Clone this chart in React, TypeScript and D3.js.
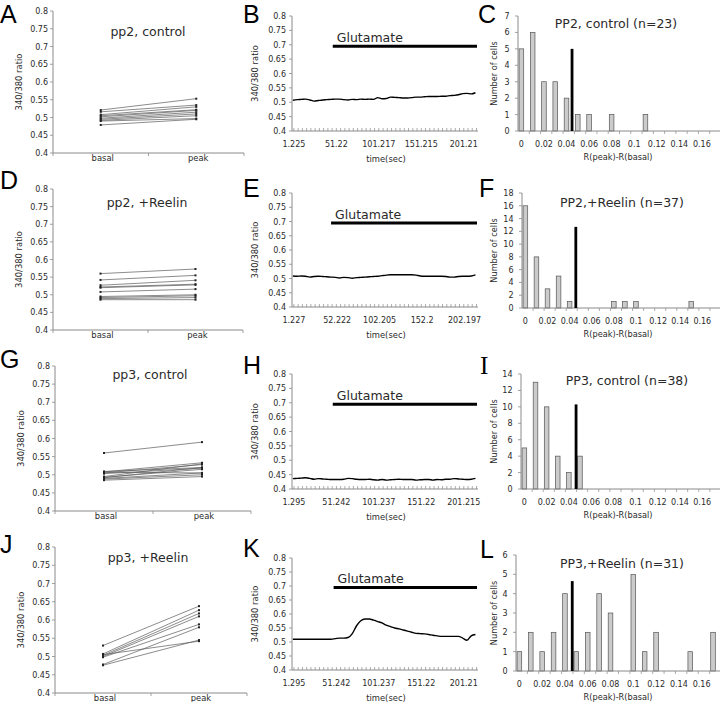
import React from "react";
import * as d3 from "d3";

const FONT = "'DejaVu Sans', Verdana, sans-serif";
const LETTER_FONT = "'Liberation Sans', Arial, sans-serif";
const AXIS = "#8a8a8a";
const TXT = "#2a2a2a";

// ---------- scatter (basal vs peak) ----------
const scatterCategories = ["basal", "peak"];
const ratioTicks = [0.4, 0.45, 0.5, 0.55, 0.6, 0.65, 0.7, 0.75, 0.8];
const ratioTickLabels = ["0.4", "0.45", "0.5", "0.55", "0.6", "0.65", "0.7", "0.75", "0.8"];

const pp2ControlBasal = [0.521, 0.516, 0.508, 0.505, 0.502, 0.498, 0.495, 0.492, 0.49, 0.479];
const pp2ControlPeak = [0.553, 0.535, 0.53, 0.522, 0.52, 0.515, 0.51, 0.505, 0.497, 0.495];
const pp2ReelinBasal = [0.56, 0.542, 0.527, 0.522, 0.52, 0.508, 0.495, 0.492, 0.489, 0.486];
const pp2ReelinPeak = [0.573, 0.555, 0.541, 0.53, 0.528, 0.516, 0.5, 0.497, 0.492, 0.486];
const pp3ControlBasal = [0.56, 0.509, 0.508, 0.507, 0.505, 0.503, 0.495, 0.493, 0.492, 0.49, 0.488, 0.485];
const pp3ControlPeak = [0.59, 0.52, 0.533, 0.505, 0.528, 0.518, 0.53, 0.515, 0.52, 0.505, 0.5, 0.495];
const pp3ReelinBasal = [0.53, 0.507, 0.503, 0.5, 0.498, 0.478, 0.476, 0.505];
const pp3ReelinPeak = [0.638, 0.627, 0.618, 0.61, 0.588, 0.58, 0.545, 0.542];

// ---------- traces ----------
const traceTimes = [0, 5, 10, 15, 20, 25, 30, 35, 40, 45, 50, 55, 60, 65, 70, 75, 80, 85, 90, 95, 100, 105, 110, 115, 120, 125, 130, 135, 140, 145, 150, 155, 160, 165, 170, 175, 180, 185, 190, 195, 200, 205, 210, 215];
const tracePP2Control = [0.507, 0.509, 0.51, 0.511, 0.508, 0.504, 0.506, 0.508, 0.509, 0.51, 0.511, 0.511, 0.509, 0.508, 0.51, 0.509, 0.511, 0.51, 0.511, 0.51, 0.516, 0.512, 0.513, 0.518, 0.517, 0.516, 0.515, 0.515, 0.516, 0.518, 0.518, 0.519, 0.52, 0.52, 0.52, 0.521, 0.521, 0.523, 0.524, 0.526, 0.53, 0.531, 0.529, 0.533];
const tracePP2Reelin = [0.509, 0.508, 0.509, 0.508, 0.505, 0.507, 0.508, 0.507, 0.506, 0.505, 0.504, 0.502, 0.504, 0.503, 0.501, 0.503, 0.504, 0.505, 0.506, 0.507, 0.508, 0.51, 0.512, 0.513, 0.513, 0.513, 0.513, 0.513, 0.513, 0.512, 0.509, 0.508, 0.508, 0.508, 0.508, 0.508, 0.507, 0.505, 0.505, 0.507, 0.508, 0.508, 0.509, 0.513];
const tracePP3Control = [0.436, 0.437, 0.438, 0.439, 0.437, 0.434, 0.436, 0.435, 0.434, 0.433, 0.433, 0.433, 0.434, 0.437, 0.436, 0.434, 0.433, 0.433, 0.434, 0.432, 0.431, 0.433, 0.431, 0.432, 0.433, 0.434, 0.433, 0.433, 0.433, 0.431, 0.432, 0.433, 0.433, 0.431, 0.433, 0.432, 0.434, 0.434, 0.436, 0.435, 0.434, 0.433, 0.434, 0.437];
const tracePP3Reelin = [0.51, 0.51, 0.51, 0.51, 0.51, 0.51, 0.51, 0.51, 0.51, 0.51, 0.512, 0.514, 0.514, 0.516, 0.53, 0.558, 0.576, 0.582, 0.582, 0.578, 0.573, 0.568, 0.56, 0.555, 0.55, 0.547, 0.543, 0.539, 0.535, 0.531, 0.53, 0.529, 0.527, 0.524, 0.522, 0.52, 0.52, 0.52, 0.52, 0.52, 0.514, 0.506, 0.522, 0.527];

const timeLabelsB = ["1.225", "51.22", "101.217", "151.215", "201.21"];
const timeLabelsE = ["1.227", "52.222", "102.205", "152.2", "202.197"];
const timeLabelsH = ["1.295", "51.242", "101.237", "151.22", "201.215"];
const timeLabelsK = ["1.295", "51.242", "101.237", "151.22", "201.21"];

// ---------- histograms ----------
const binValues = [0, 0.01, 0.02, 0.03, 0.04, 0.05, 0.06, 0.07, 0.08, 0.09, 0.1, 0.11, 0.12, 0.13, 0.14, 0.15, 0.16, 0.17];
const binTickValues = [0, 0.02, 0.04, 0.06, 0.08, 0.1, 0.12, 0.14, 0.16];
const binTickLabels = ["0", "0.02", "0.04", "0.06", "0.08", "0.1", "0.12", "0.14", "0.16"];
const histPP2Control = [5, 6, 3, 3, 2, 1, 1, 0, 1, 0, 0, 1, 0, 0, 0, 0, 0, 0];
const histPP2Reelin = [16, 8, 3, 5, 1, 0, 0, 0, 1, 1, 1, 0, 0, 0, 0, 1, 0, 0];
const histPP3Control = [5, 13, 10, 4, 2, 4, 0, 0, 0, 0, 0, 0, 0, 0, 0, 0, 0, 0];
const histPP3Reelin = [1, 2, 1, 2, 4, 1, 2, 4, 3, 0, 5, 1, 2, 0, 0, 1, 0, 2];
const meanPP2Control = { x: 0.0449, h: 5 };
const meanPP2Reelin = { x: 0.0456, h: 12.7 };
const meanPP3Control = { x: 0.0465, h: 10.3 };
const meanPP3Reelin = { x: 0.0464, h: 4.65 };

function Letter({ ch, x, y, serif }: { ch: string; x: number; y: number; serif?: boolean }) {
  return (
    <text x={x} y={y} fontFamily={serif ? "'Liberation Serif', serif" : LETTER_FONT} fontSize={25} fill="#000">
      {ch}
    </text>
  );
}

function YAxisRatio({ x, y, gap }: { x: number; y: d3.ScaleLinear<number, number>; gap: number }) {
  return (
    <g>
      <line x1={x} x2={x} y1={y(0.8)} y2={y(0.4)} stroke={AXIS} strokeWidth={1} />
      {ratioTicks.map((t, i) => (
        <g key={i}>
          <line x1={x - 3} x2={x} y1={y(t)} y2={y(t)} stroke={AXIS} strokeWidth={0.8} />
          <text x={x - gap} y={y(t) + 3} textAnchor="end" fontFamily={FONT} fontSize={8} fill={TXT}>
            {ratioTickLabels[i]}
          </text>
        </g>
      ))}
    </g>
  );
}

function ScatterPanel(p: any) {
  const x = d3.scalePoint<string>().domain(scatterCategories).range([p.x0, p.x1]).padding(0.5);
  const y = d3.scaleLinear().domain([0.4, 0.8]).range([p.yBot, p.yTop]);
  const mid = (p.x0 + p.x1) / 2;
  return (
    <g>
      <Letter ch={p.letter} x={p.lx} y={p.ly} />
      <YAxisRatio x={p.x0} y={y} gap={5} />
      <line x1={p.x0} x2={p.x1} y1={p.yBot} y2={p.yBot} stroke={AXIS} strokeWidth={1} />
      {[p.x0, mid, p.x1].map((tx: number, i: number) => (
        <line key={i} x1={tx} x2={tx} y1={p.yBot} y2={p.yBot + 3} stroke={AXIS} strokeWidth={0.8} />
      ))}
      {scatterCategories.map((c) => (
        <text key={c} x={(x(c) as number) + 2} y={p.yBot + 7.5} textAnchor="middle" fontFamily={FONT} fontSize={8.4} fill={TXT}>
          {c}
        </text>
      ))}
      <text
        transform={`translate(${p.x0 - 31},${(p.yTop + p.yBot) / 2}) rotate(-90)`}
        textAnchor="middle"
        fontFamily={FONT}
        fontSize={8.4}
        fill={TXT}
      >
        340/380 ratio
      </text>
      <text x={p.tx} y={p.ty} textAnchor="middle" fontFamily={FONT} fontSize={12.5} fill={TXT}>
        {p.title}
      </text>
      {p.basal.map((b: number, i: number) => {
        const xa = x("basal") as number;
        const xb = x("peak") as number;
        return (
          <g key={i}>
            <line x1={xa} x2={xb} y1={y(b)} y2={y(p.peak[i])} stroke="#5a5a5a" strokeWidth={0.7} />
            <rect x={xa - 1} y={y(b) - 1} width={2} height={2} fill="#222" />
            <rect x={xb - 1} y={y(p.peak[i]) - 1} width={2} height={2} fill="#222" />
          </g>
        );
      })}
    </g>
  );
}

function TracePanel(p: any) {
  const x0 = 292;
  const x1 = 478;
  const x = d3.scaleLinear().domain([-1, 218]).range([x0, x1]);
  const y = d3.scaleLinear().domain([0.4, 0.8]).range([p.yBot, p.yTop]);
  const labelTimes = p.labels.map((l: string) => parseFloat(l));
  const minor = d3.range(labelTimes[0], 218, 5);
  const line = d3
    .line<number>()
    .x((_, i) => x(traceTimes[i]))
    .y((d) => y(d))
    .curve(d3.curveMonotoneX);
  const gy = y(0.695);
  return (
    <g>
      <Letter ch={p.letter} x={p.lx} y={p.ly} />
      <YAxisRatio x={x0} y={y} gap={6} />
      <line x1={x0} x2={x1} y1={p.yBot} y2={p.yBot} stroke={AXIS} strokeWidth={1} />
      {minor.map((t: number, i: number) => (
        <line key={i} x1={x(t)} x2={x(t)} y1={p.yBot} y2={p.yBot - 3} stroke={AXIS} strokeWidth={0.7} />
      ))}
      {p.labels.map((l: string, i: number) => (
        <text key={i} x={x(labelTimes[i])} y={p.yBot + 16} textAnchor="middle" fontFamily={FONT} fontSize={8} fill={TXT}>
          {l}
        </text>
      ))}
      <text x={386} y={p.yBot + 31} textAnchor="middle" fontFamily={FONT} fontSize={8.4} fill={TXT}>
        time(sec)
      </text>
      <text
        transform={`translate(${x0 - 34},${(p.yTop + p.yBot) / 2}) rotate(-90)`}
        textAnchor="middle"
        fontFamily={FONT}
        fontSize={8.4}
        fill={TXT}
      >
        340/380 ratio
      </text>
      <line x1={x(p.glut)} x2={477} y1={gy} y2={gy} stroke="#000" strokeWidth={3} />
      <text x={x(p.glut) + 4} y={gy - 4} fontFamily={FONT} fontSize={12.5} fill={TXT}>
        Glutamate
      </text>
      <path d={line(p.values) as string} fill="none" stroke="#000" strokeWidth={1.4} />
    </g>
  );
}

function HistPanel(p: any) {
  const x1 = 721;
  const xb = d3.scaleLinear().domain([0, 0.18]).range([p.x0, x1]);
  const y = d3.scaleLinear().domain([0, p.max]).range([p.yBot, p.yTop]);
  const step = xb(0.01) - xb(0);
  const yTicks = d3.range(0, p.max + 1, p.tickStep);
  const centerOff = 3.4;
  return (
    <g>
      <Letter ch={p.letter} x={p.lx} y={p.ly} serif={p.serif} />
      <line x1={p.x0} x2={p.x0} y1={p.yTop} y2={p.yBot} stroke={AXIS} strokeWidth={1} />
      {yTicks.map((t: number) => (
        <g key={t}>
          <line x1={p.x0 - 3} x2={p.x0} y1={y(t)} y2={y(t)} stroke={AXIS} strokeWidth={0.8} />
          <text x={p.x0 - 8.5} y={y(t) + 3} textAnchor="end" fontFamily={FONT} fontSize={8} fill={TXT}>
            {t}
          </text>
        </g>
      ))}
      {binValues.map((v, i) => (
        <line key={"t" + i} x1={xb(v) + step} x2={xb(v) + step} y1={p.yBot} y2={p.yBot + 3} stroke={AXIS} strokeWidth={0.7} />
      ))}
      {binValues.map((v, i) =>
        p.counts[i] > 0 ? (
          <rect
            key={"b" + i}
            x={xb(v) + 1.1}
            y={y(p.counts[i])}
            width={4.6}
            height={p.yBot - y(p.counts[i])}
            fill="#cbcbcb"
            stroke="#555"
            strokeWidth={0.7}
          />
        ) : null
      )}
      <line x1={p.x0} x2={x1} y1={p.yBot} y2={p.yBot} stroke={AXIS} strokeWidth={1} />
      {binTickValues.map((v, i) => (
        <text key={"l" + i} x={xb(v) + centerOff} y={p.yBot + 16} textAnchor="middle" fontFamily={FONT} fontSize={8} fill={TXT}>
          {binTickLabels[i]}
        </text>
      ))}
      <line
        x1={xb(p.mean.x) + centerOff}
        x2={xb(p.mean.x) + centerOff}
        y1={y(p.mean.h)}
        y2={p.yBot}
        stroke="#000"
        strokeWidth={2.8}
      />
      <text x={618} y={p.yBot + 29} textAnchor="middle" fontFamily={FONT} fontSize={8.2} fill={TXT}>
        R(peak)-R(basal)
      </text>
      <text
        transform={`translate(497,${(p.yTop + p.yBot) / 2}) rotate(-90)`}
        textAnchor="middle"
        fontFamily={FONT}
        fontSize={8.2}
        fill={TXT}
      >
        Number of cells
      </text>
      <text x={p.tx} y={p.ty} textAnchor="middle" fontFamily={FONT} fontSize={12.5} fill={TXT}>
        {p.title}
      </text>
    </g>
  );
}

export default function App() {
  return (
    <svg
      width={720}
      height={702}
      viewBox="0 0 720 702"
      style={{ position: "absolute", left: 0, top: 0, background: "#fff" }}
    >
      <rect width={720} height={702} fill="#fff" />
      {/* Row 1 */}
      <ScatterPanel letter="A" lx={0} ly={23} x0={53} x1={244} yTop={11} yBot={153} basal={pp2ControlBasal} peak={pp2ControlPeak} title="pp2, control" tx={148} ty={36} />
      <TracePanel letter="B" lx={243} ly={23} yTop={16} yBot={131} values={tracePP2Control} labels={timeLabelsB} glut={47} />
      <HistPanel letter="C" lx={478} ly={23} x0={518} yTop={16} yBot={131} max={7} tickStep={1} counts={histPP2Control} mean={meanPP2Control} title="PP2, control (n=23)" tx={616} ty={28} />
      {/* Row 2 */}
      <ScatterPanel letter="D" lx={0} ly={189} x0={53} x1={243} yTop={189} yBot={330} basal={pp2ReelinBasal} peak={pp2ReelinPeak} title="pp2, +Reelin" tx={147} ty={207} />
      <TracePanel letter="E" lx={243} ly={197} yTop={193} yBot={307} values={tracePP2Reelin} labels={timeLabelsE} glut={45} />
      <HistPanel letter="F" lx={479} ly={197} x0={522} yTop={193} yBot={308} max={18} tickStep={2} counts={histPP2Reelin} mean={meanPP2Reelin} title="PP2,+Reelin (n=37)" tx={622} ty={207} />
      {/* Row 3 */}
      <ScatterPanel letter="G" lx={0} ly={368} x0={55} x1={251} yTop={366} yBot={511} basal={pp3ControlBasal} peak={pp3ControlPeak} title="pp3, control" tx={150} ty={379} />
      <TracePanel letter="H" lx={243} ly={374} yTop={374} yBot={489} values={tracePP3Control} labels={timeLabelsH} glut={47} />
      <HistPanel letter="I" serif lx={480} ly={374} x0={521} yTop={374} yBot={489} max={14} tickStep={2} counts={histPP3Control} mean={meanPP3Control} title="PP3, control (n=38)" tx={627} ty={385} />
      {/* Row 4 */}
      <ScatterPanel letter="J" lx={0} ly={553} x0={55} x1={247} yTop={547} yBot={693} basal={pp3ReelinBasal} peak={pp3ReelinPeak} title="pp3, +Reelin" tx={148} ty={562} />
      <TracePanel letter="K" lx={243} ly={557} yTop={558} yBot={670} values={tracePP3Reelin} labels={timeLabelsK} glut={48} />
      <HistPanel letter="L" lx={480} ly={558} x0={516} yTop={555} yBot={671} max={6} tickStep={1} counts={histPP3Reelin} mean={meanPP3Reelin} title="PP3,+Reelin (n=31)" tx={622} ty={568} />
    </svg>
  );
}
